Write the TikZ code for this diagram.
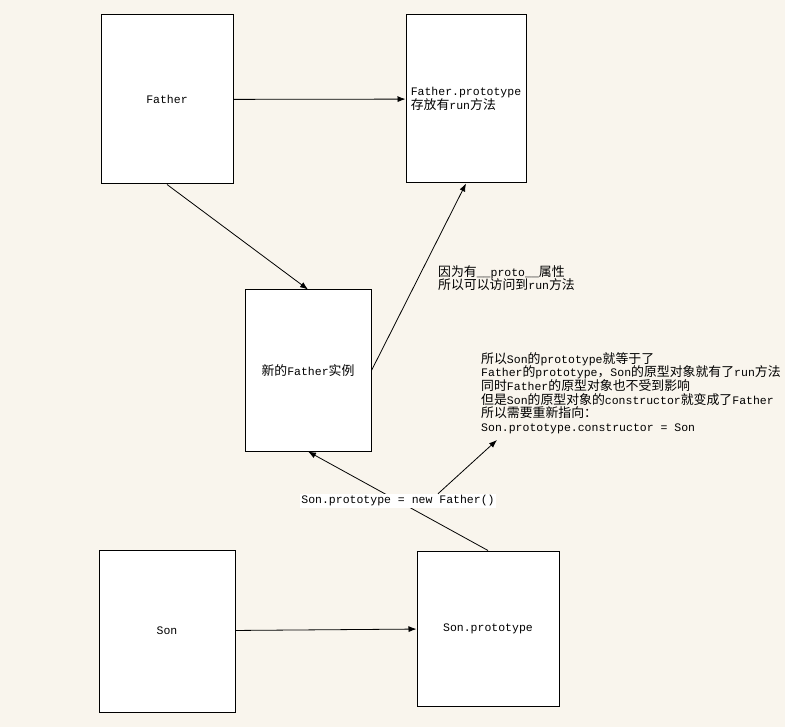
\documentclass[tikz,border=0pt]{standalone}
\usepackage{fontspec}
\setmainfont{Liberation Mono}
\newfontfamily\zhfont[Scale=1.12]{Noto Sans CJK SC}
\newcommand{\zh}[1]{{\zhfont #1}}
\usepackage{tikz}
\usetikzlibrary{arrows.meta}
\usetikzlibrary{calc}
\definecolor{paper}{HTML}{F9F5ED}
\tikzstyle{block} = [draw, fill=white, line width=1pt, inner sep=2pt]
\tikzstyle{arrow} = [-{Latex[length=8pt,width=6pt]}, line width=0.8pt]
\tikzstyle{note} = [align=left, inner sep=0pt]

\begin{document}
\begin{tikzpicture}[x=1pt, y=-1pt, font=\fontsize{11.5}{13.6}\selectfont]
	\useasboundingbox[fill=paper] (0,0) rectangle (785,727);
	
	% Father and Father.prototype
	\node (father) [block, minimum width=132pt, minimum height=169pt] at (167,99.5) {Father};
	\node (fproto) [block, minimum width=120pt, minimum height=168pt, align=left] at (466,99) {Father.prototype\\\zh{存放有}run\zh{方法}};
	\draw [arrow] (father) -- (fproto);
	
	% the new instance
	\node (inst) [block, minimum width=126pt, minimum height=161pt] at (308,370.5) {\zh{新的}Father\zh{实例}};
	\draw [arrow] (father.south) -- (inst.north);
	\draw [arrow] (inst.east) -- (fproto.south);
	\node (reason) [note, anchor=west] at (438,278) {\zh{因为有}\_\_proto\_\_\zh{属性}\\\zh{所以可以访问到}run\zh{方法}};
	
	% Son and Son.prototype
	\node (son) [block, minimum width=136pt, minimum height=162pt] at (167,631) {Son};
	\node (sproto) [block, minimum width=142pt, minimum height=155pt] at (488,628.5) {Son.prototype};
	\draw [arrow] (son) -- (sproto);
	
	\draw [arrow] (sproto.north) -- (inst.south) node (lbl) [midway, fill=white, inner sep=1.5pt] {Son.prototype = new Father()};
	
	\node (expl) [note, anchor=west] at (481,393) {\zh{所以}Son\zh{的}prototype\zh{就等于了}\\
		Father\zh{的}prototype\zh{，}Son\zh{的原型对象就有了}run\zh{方法}\\
		\zh{同时}Father\zh{的原型对象也不受到影响}\\
		\zh{但是}Son\zh{的原型对象的}constructor\zh{就变成了}Father\\
		\zh{所以需要重新指向：}\\
		Son.prototype.constructor = Son};
	\coordinate (explend) at (497,440);
	\draw [arrow] ($(lbl.north)+(40,0)$) -- (explend);
\end{tikzpicture}
\end{document}
